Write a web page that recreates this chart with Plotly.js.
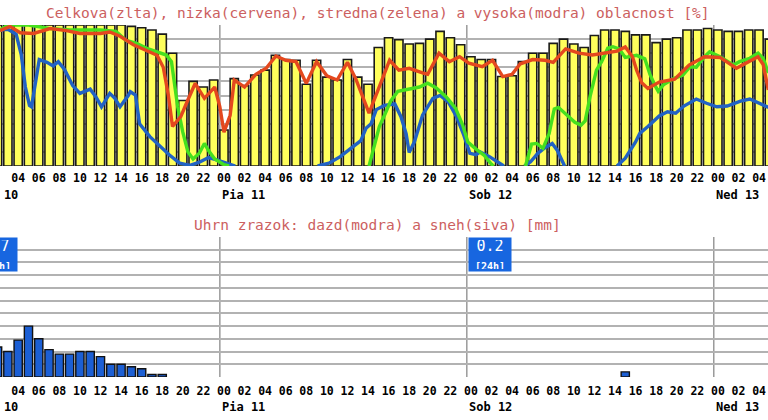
<!DOCTYPE html>
<html><head><meta charset="utf-8">
<script src="https://cdn.plot.ly/plotly-3.0.1.min.js"></script>
<style>html,body{margin:0;padding:0;background:#fff}#chart{width:768px;height:420px}</style>
</head><body><div id="chart"></div>
<script>
// ---- data (hours counted from Thu 10, 00:00) ----
const hours = [2,3,4,5,6,7,8,9,10,11,12,13,14,15,16,17,18,19,20,21,22,23,24,25,26,27,28,29,30,31,32,33,34,35,36,37,38,39,40,41,42,43,44,45,46,47,48,49,50,51,52,53,54,55,56,57,58,59,60,61,62,63,64,65,66,67,68,69,70,71,72,73,74,75,76,77];
const totalCloud = [100,100,100,100,100,100,100,100,100,100,100,100,100,99,98,96.5,93.5,80,46.5,60,56,61,25.5,62,57,64.5,68,78.5,75.5,75,58,75,63,61,75.5,63,58,84,91,89.5,86.5,87,90,95.5,91,86,77.5,75.5,75.5,63.5,64,74,80,80,87,90,86.5,84,92.5,96.5,96.5,95.5,93,93,87.5,90,91,96.5,96.5,97.5,96.5,95.5,95.5,96.5,96.5,90];

const lowX = [2.24,3.2,4.2,5.5,7.1,8.7,10,12,12.9,13.9,15.2,16.5,17.5,18.1,18.6,19.0,19.8,20.5,21.2,22.1,23.1,23.6,24.0,24.6,25.0,26.0,27.1,28.1,29.05,30.0,31.0,32.0,33.0,34.0,35.0,36.0,36.8,38.1,39.1,40.1,41.0,42.0,43.3,43.8,44.9,45.9,46.9,47.8,49.1,50.1,51.1,52.0,52.8,54.0,55.2,56.0,57.2,58.5,59.8,61.1,62.2,63.0,63.7,64.1,64.6,65.2,66.3,67.8,69.2,70.7,72.2,73.8,74.8,75.9,76.4,76.7,76.9];
const lowY = [96,99,94.5,94,97.5,96,94,94,95,92,86,82,78.5,70,50,28,35,47,58.5,48,56,42,24,36,61,56,65,69.3,78,75,74,58.6,74,64,61,73.5,62,37.5,56,75,68,69.3,66,65,80,74,77.5,73,70.4,75,63.4,65,72.5,75.5,75,73.5,83,80,78.7,80,81.5,84.4,77.5,68,59,55,59.5,61.5,71.6,77.5,77,69.3,73,77.5,72,60,54];

const midX = [2.24,3.0,5.0,7.0,9.0,12.0,13.5,14.5,15.5,16.5,17.5,18.4,18.9,19.2,19.5,20.0,20.5,21.0,21.6,22.1,22.5,23.1,24.0,24.5,null,38.1,38.6,39.1,39.6,40.2,40.9,42.0,43.0,43.8,44.6,45.6,46.5,47.2,47.7,48.5,49.3,49.9,50.2,null,53.3,53.9,54.4,55.0,55.6,56.1,56.5,57.2,58.1,58.7,59.1,59.6,60.2,60.7,61.3,61.8,62.4,63.0,63.5,64.1,64.9,65.4,65.9,66.2,66.7,67.7,68.6,69.3,69.9,70.7,71.2,72.2,73.5,74.1,75.1,75.9,76.4,76.9];
const midY = [96.5,100,100,97.6,96.5,96.5,95.5,89,87,83.5,81,78.7,74,56,42,24,10,5,9,16,11,5,1,0,null,0,15,28,36,46,53,54.4,56,58.7,55.5,49,41,29,17,12,7.5,2,0,null,0,15.5,16,12.5,23,40.5,41.6,37,31,29,32,50,68,74,83.5,84.6,83,77,77.5,78.5,76,65,57,53,57.5,62,64.5,70.4,70,77.5,81,77.5,71.6,74,76.4,80,76.4,66];

const highX = [2.24,3.0,3.8,4.3,4.7,5.1,5.3,5.6,6.05,6.8,7.4,7.9,8.5,9.3,10.0,11.0,11.6,12.1,12.9,13.4,13.9,14.7,14.9,15.4,15.8,16.8,17.8,18.7,19.7,20.7,21.7,22.5,23.3,24.3,25.1,null,33.1,34.2,35.3,36.6,37.3,37.8,38.3,38.8,39.6,40.6,41.2,41.7,42.0,42.5,43.3,44.3,45.0,45.8,46.6,47.3,47.9,48.5,48.9,49.8,50.7,51.2,null,53.2,53.8,54.5,55.2,55.9,56.4,57.1,null,62.2,63.0,64.0,64.4,65.2,66.3,67.1,67.9,68.7,69.9,70.9,71.9,72.9,74.2,75.1,76.1,76.9];
const highY = [96.5,97,93.5,79,56,43,42,55,75.5,73.5,71,74,68.5,57,51.5,54.5,48.5,42,51.5,48,42,50,52.7,50.4,30,20.8,13.7,7.8,2,0.4,3,6,4.3,2,0,null,0,2,6.6,13.7,18,26.7,30,40,43,44,35,23,9.5,17,36,48,50,45.5,35,22,9,8,10,6.6,2,0,null,0,3,9,13,16,11,0,null,0,5.5,17,23,28,35.5,38.5,37.4,42.5,47.5,44.5,42,42.5,46,47.5,44.5,41.6];

const precipHours = [2,3,4,5,6,7,8,9,10,11,12,13,14,15,16,17,18,63];
const precipMm = [0.236,0.20,0.29,0.40,0.30,0.215,0.18,0.18,0.20,0.20,0.16,0.10,0.10,0.08,0.065,0.02,0.02,0.04];

const dayNames = ["Stv 10","Pia 11","Sob 12","Ned 13"];
const dayStartHours = [0,24,48,72];
const dayTotals = [3.7,0,0.2,0];

const tickHours = hours.filter(h => h % 2 === 0);
const tickText = tickHours.map(h => String(h % 24).padStart(2,'0'));

// ---- styling / layout ----
const BAR_W = 0.8;
const xRange = [2.235, 76.87];
const mono = "DejaVu Sans Mono";
const grid = "#b2b2b2";
const titleColor = "#cc6060";
const paperX = h => (h - xRange[0]) / (xRange[1] - xRange[0]);
const dayLine = h => h - BAR_W / 2;

const traces = [
  {type:'bar', x:hours, y:totalCloud, width:BAR_W, xaxis:'x', yaxis:'y',
   marker:{color:'#ffff5c', line:{color:'#1a1a1a', width:1.6}}, hoverinfo:'skip'},
  {type:'scatter', mode:'lines', x:highX, y:highY, xaxis:'x', yaxis:'y', connectgaps:false,
   line:{color:'#2262c4', width:3.4}, hoverinfo:'skip'},
  {type:'scatter', mode:'lines', x:midX, y:midY, xaxis:'x', yaxis:'y', connectgaps:false,
   line:{color:'#46e01e', width:3.4}, hoverinfo:'skip'},
  {type:'scatter', mode:'lines', x:lowX, y:lowY, xaxis:'x', yaxis:'y', connectgaps:false,
   line:{color:'#e4481e', width:3.4}, hoverinfo:'skip'},
  {type:'bar', x:precipHours, y:precipMm, width:BAR_W, xaxis:'x2', yaxis:'y2',
   marker:{color:'#1c5fd4', line:{color:'#111', width:1.4}}, hoverinfo:'skip'}
];

const shapes = [];
dayStartHours.forEach(d => {
  ['y','y2'].forEach((ya,i) => {
    shapes.push({type:'line', layer:'below', xref: i ? 'x2' : 'x', yref: ya + ' domain',
      x0: dayLine(d), x1: dayLine(d), y0:0, y1:1, line:{color:'#9a9a9a', width:1.5}});
  });
});

const annotations = [
  {xref:'paper', yref:'paper', x:0.492, y:1 - 225/420, xanchor:'center', yanchor:'middle',
   showarrow:false, text:'Uhrn zrazok: dazd(modra) a sneh(siva) [mm]',
   font:{family:mono, size:14.5, color:titleColor}}
];
dayNames.forEach((name,i) => {
  [1 - 195/420, 1 - 407/420].forEach(yy => {
    annotations.push({xref:'paper', yref:'paper', x:paperX(dayLine(dayStartHours[i])), y:yy,
      xanchor:'left', yanchor:'middle', showarrow:false, text:name,
      font:{family:mono, size:12, color:'#000', weight:'bold'}});
  });
  if (dayTotals[i] > 0) {
    annotations.push({xref:'paper', yref:'y2 domain', x:paperX(dayLine(dayStartHours[i])) + 1/768, y:1,
      xanchor:'left', yanchor:'top', showarrow:false, width:38, height:29, borderpad:2,
      bgcolor:'#1766e0', align:'center', valign:'middle',
      text: dayTotals[i].toFixed(1) + "<br><span style='font-size:10px;font-weight:bold'>[24h]</span>",
      font:{family:mono, size:15, color:'#fff'}});
  }
});

const xCommon = {range:xRange, showgrid:false, zeroline:false, showline:false,
  tickmode:'array', tickvals:tickHours, ticktext:tickText, ticks:'',
  tickfont:{family:mono, size:11.5, color:'#000', weight:'bold'}, fixedrange:true};
const yCommon = {showticklabels:false, showgrid:true, gridcolor:grid, gridwidth:2,
  zeroline:false, ticks:'', fixedrange:true, showline:false};

const layout = {
  width:768, height:420, margin:{l:0, r:0, t:0, b:0},
  paper_bgcolor:'#fff', plot_bgcolor:'#fff', showlegend:false, bargap:0,
  title:{text:'Celkova(zlta), nizka(cervena), stredna(zelena) a vysoka(modra) oblacnost [%]',
    x:0.492, y:1 - 13/420, xanchor:'center', yanchor:'middle',
    font:{family:mono, size:14.5, color:titleColor}},
  xaxis: Object.assign({}, xCommon, {anchor:'y', domain:[0,1], ticklabelstandoff:3}),
  xaxis2: Object.assign({}, xCommon, {anchor:'y2', domain:[0,1], ticklabelstandoff:5}),
  yaxis: Object.assign({}, yCommon, {domain:[1 - 166/420, 1 - 25/420], range:[0,100], dtick:10, anchor:'x'}),
  yaxis2: Object.assign({}, yCommon, {domain:[1 - 377/420, 1 - 237/420], range:[0,1.1], tickmode:'array',
    tickvals:[0,0.1,0.2,0.3,0.4,0.5,0.6,0.7,0.8,0.9,1.0,1.1], anchor:'x2'}),
  shapes: shapes,
  annotations: annotations
};

Plotly.newPlot('chart', traces, layout, {staticPlot:true, displayModeBar:false});
</script>
</body></html>
